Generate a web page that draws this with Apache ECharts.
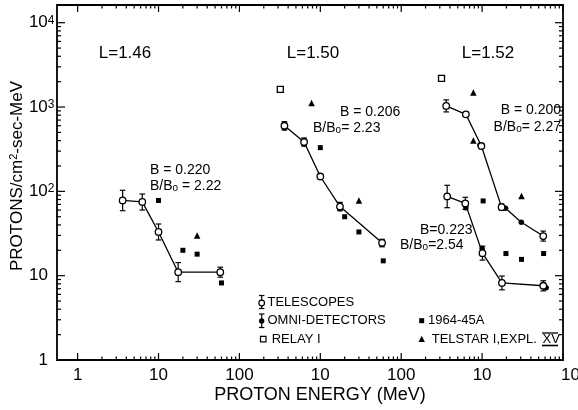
<!DOCTYPE html>
<html><head><meta charset="utf-8">
<script src="https://cdn.jsdelivr.net/npm/echarts@6/dist/echarts.min.js"></script>
<style>html,body{margin:0;padding:0;background:#fff}#c{width:578px;height:410px}</style>
</head><body><div id="c"></div>
<script>
// ---- axis ticks (continuous log axis, three panels side by side) ----
const xMajorTicks = [1, 10, 100, 1000, 10000, 100000, 1000000];
const xTickLabels = ['1', '10', '100', '10', '100', '10', '100'];
const yMajorTicks = [1, 10, 100, 1000, 10000];
const yTickBase = ['1', '10', '10', '10', '10'];
const yTickExp = ['', '', '2', '3', '4'];
const panelOffset = [1, 100, 10000];        // panel energy E is drawn at E*offset
const panelNames = ['L=1.46', 'L=1.50', 'L=1.52'];

// ---- Panel 1 : L=1.46 ----
const p1TelE = [3.6, 6.3, 10, 17.5, 58];
const p1TelV = [78, 75, 33, 11, 11];
const p1TelLo = [59, 60, 26.5, 8.5, 9.6];
const p1TelHi = [103, 93, 41, 14.3, 12.6];
const p1SatE = [10, 20, 30, 60];          // 1964-45A
const p1SatV = [78, 20, 18, 8.2];
const p1TelstarE = [30];
const p1TelstarV = [30];

// ---- Panel 2 : L=1.50 ----
const p2TelE = [3.6, 6.3, 10, 17.5, 58];
const p2TelV = [600, 385, 150, 66, 24.5];
const p2TelLo = [535, 345, 142, 59, 22];
const p2TelHi = [670, 430, 158, 74, 27];
const p2OmniE = [3.6, 6.3, 17.5, 58];
const p2OmniV = [565, 362, 62, 24];
const p2RelayE = [3.2];
const p2RelayV = [1620];
const p2SatE = [10, 20, 30, 60];
const p2SatV = [330, 50, 33, 15];
const p2TelstarE = [7.8, 30];
const p2TelstarV = [1120, 78];

// ---- Panel 3 : L=1.52 (upper curve B=0.200, lower curve B=0.223) ----
const p3aTelE = [3.6, 6.3, 9.8, 17.4, 57];
const p3aTelV = [1030, 820, 345, 65, 29.5];
const p3aTelLo = [875, 775, 327, 60, 25.7];
const p3aTelHi = [1215, 870, 364, 71, 33.8];
const p3aOmniE = [9.4, 19.5, 30.5, 57];
const p3aOmniV = [355, 63, 43, 28.5];
const p3aLineE = [3.6, 6.3, 9.8, 17.4, 19.5, 30.5, 57];
const p3aLineV = [1030, 820, 345, 65, 63, 43, 29.5];
const p3bTelE = [3.7, 6.2, 10.1, 17.6, 57];
const p3bTelV = [87, 72, 18.5, 8.2, 7.6];
const p3bTelLo = [64, 61, 15.3, 6.8, 6.6];
const p3bTelHi = [118, 85, 22.4, 9.9, 8.7];
const p3bOmniE = [6.3, 10, 62];
const p3bOmniV = [64, 21, 7.2];
const p3RelayE = [3.15];
const p3RelayV = [2190];
const p3SatE = [10.3, 19.7, 30.7, 57.6];
const p3SatV = [77, 18.3, 15.6, 18.3];
const p3TelstarE = [7.8, 7.8, 30.7];
const p3TelstarV = [1490, 400, 88];

// ---- helpers ----
const xMin = Math.pow(10, -0.255), xMax = 1e6, yMin = 1, yMax = Math.pow(10, 4.21);
const FONT = '"Liberation Sans", Arial, sans-serif';
const P = (E, V, off) => E.map((e, i) => [e * off, V[i]]);
const EB = (E, Lo, Hi, off) => E.map((e, i) => [e * off, Lo[i], Hi[i]]);
const [o1, o2, o3] = panelOffset;

function ln(x1, y1, x2, y2, w) {
  return {type: 'line', shape: {x1, y1, x2, y2}, style: {stroke: '#000', lineWidth: w || 1.2}};
}
function errRender(params, api) {
  const x = api.value(0);
  const a = api.coord([x, api.value(1)]), b = api.coord([x, api.value(2)]);
  const w = 2.8;
  return {type: 'group', children: [
    ln(a[0], a[1], b[0], b[1]), ln(a[0] - w, a[1], a[0] + w, a[1]), ln(b[0] - w, b[1], b[0] + w, b[1])
  ]};
}
function frameRender(params, api) {
  const tl = api.coord([xMin, yMax]), br = api.coord([xMax, yMin]);
  const L = tl[0], T = tl[1], R = br[0], B = br[1];
  const ch = [{type: 'rect', shape: {x: L, y: T, width: R - L, height: B - T},
    style: {fill: null, stroke: '#000', lineWidth: 1.8}}];
  xMajorTicks.forEach((v, i) => {
    const x = api.coord([v, yMin])[0];
    ch.push(ln(x, B, x, B - 7), ln(x, T, x, T + 7));
    const last = i === xMajorTicks.length - 1;   // the last label runs off the page edge
    ch.push({type: 'text', style: {text: xTickLabels[i], x: last ? x - 2 : x, y: B + 15,
      align: last ? 'left' : 'center', verticalAlign: 'middle', font: '17px ' + FONT, fill: '#000'}});
    if (!last) {
      for (let m = 2; m <= 9; m++) {
        const xm = api.coord([v * m, yMin])[0];
        ch.push(ln(xm, B, xm, B - 3.5), ln(xm, T, xm, T + 3.5));
      }
    }
  });
  yMajorTicks.forEach((v, i) => {
    const y = api.coord([xMin, v])[1];
    ch.push(ln(L, y, L + 8, y), ln(R, y, R - 8, y));
    const hasExp = yTickExp[i] !== '';
    ch.push({type: 'text', style: {
      text: hasExp ? '{b|' + yTickBase[i] + '}{s|' + yTickExp[i] + '}' : '{b|' + yTickBase[i] + '}',
      x: hasExp ? L - 2.5 : L - 9, y: y, align: 'right', verticalAlign: 'middle', fill: '#000',
      rich: {b: {fontSize: 17, fontFamily: FONT, fill: '#000'},
             s: {fontSize: 12, fontFamily: FONT, fill: '#000', verticalAlign: 'top'}}}});
    if (i < yMajorTicks.length - 1) {
      for (let m = 2; m <= 9; m++) {
        const ym = api.coord([xMin, v * m])[1];
        ch.push(ln(L, ym, L + 4, ym), ln(R, ym, R - 4, ym));
      }
    }
  });
  return {type: 'group', children: ch};
}

const lineSeries = (data) => ({type: 'line', data, symbol: 'none', z: 2, silent: true,
  lineStyle: {color: '#000', width: 1.3}});
const errSeries = (data) => ({type: 'custom', data, renderItem: errRender, z: 3, silent: true,
  encode: {x: 0, y: [1, 2]}});
const telSeries = (data) => ({type: 'scatter', data, symbol: 'circle', symbolSize: 6.5, z: 5,
  itemStyle: {color: '#fff', borderColor: '#000', borderWidth: 1.3, opacity: 1}});
const omniSeries = (data) => ({type: 'scatter', data, symbol: 'circle', symbolSize: 5.5, z: 4,
  itemStyle: {color: '#000', opacity: 1}});
const relaySeries = (data) => ({type: 'scatter', data, symbol: 'rect', symbolSize: 6, z: 4,
  itemStyle: {color: '#fff', borderColor: '#000', borderWidth: 1.3, opacity: 1}});
const satSeries = (data) => ({type: 'scatter', data, symbol: 'rect', symbolSize: 5, z: 4,
  itemStyle: {color: '#000', opacity: 1}});
const telstarSeries = (data) => ({type: 'scatter', data, symbol: 'triangle', symbolSize: 6.5, z: 4,
  itemStyle: {color: '#000', opacity: 1}});

const series = [
  {type: 'custom', data: [[1, 1]], renderItem: frameRender, z: 10, silent: true},
  lineSeries(P(p1TelE, p1TelV, o1)),
  lineSeries(P(p2TelE, p2TelV, o2)),
  lineSeries(P(p3aLineE, p3aLineV, o3)),
  lineSeries(P(p3bTelE, p3bTelV, o3)),
  errSeries(EB(p1TelE, p1TelLo, p1TelHi, o1)),
  errSeries(EB(p2TelE, p2TelLo, p2TelHi, o2)),
  errSeries(EB(p3aTelE, p3aTelLo, p3aTelHi, o3)),
  errSeries(EB(p3bTelE, p3bTelLo, p3bTelHi, o3)),
  omniSeries(P(p2OmniE, p2OmniV, o2)),
  omniSeries(P(p3aOmniE, p3aOmniV, o3)),
  omniSeries(P(p3bOmniE, p3bOmniV, o3)),
  telSeries(P(p1TelE, p1TelV, o1)),
  telSeries(P(p2TelE, p2TelV, o2)),
  telSeries(P(p3aTelE, p3aTelV, o3)),
  telSeries(P(p3bTelE, p3bTelV, o3)),
  relaySeries(P(p2RelayE, p2RelayV, o2)),
  relaySeries(P(p3RelayE, p3RelayV, o3)),
  satSeries(P(p1SatE, p1SatV, o1)),
  satSeries(P(p2SatE, p2SatV, o2)),
  satSeries(P(p3SatE, p3SatV, o3)),
  telstarSeries(P(p1TelstarE, p1TelstarV, o1)),
  telstarSeries(P(p2TelstarE, p2TelstarV, o2)),
  telstarSeries(P(p3TelstarE, p3TelstarV, o3))
];

const txt = (text, x, y, size, align) => ({type: 'text', x, y, silent: true,
  style: {text, font: size + 'px ' + FONT, fill: '#000', align: align || 'left', verticalAlign: 'middle'}});
const bRich = {b: {fontSize: 14, fontFamily: FONT, fill: '#000'},
               o: {fontSize: 10, fontFamily: FONT, fill: '#000', verticalAlign: 'bottom'}};
const rtxt = (text, x, y, align) => ({type: 'text', x, y, silent: true,
  style: {text, rich: bRich, fill: '#000', align: align || 'left', verticalAlign: 'middle'}});
const lgLine = (x1, y1, x2, y2, w) => ({type: 'line', silent: true, shape: {x1, y1, x2, y2},
  style: {stroke: '#000', lineWidth: w || 1.2}});

const graphic = [
  txt(panelNames[0], 125, 53, 17, 'center'),
  txt(panelNames[1], 313, 53, 17, 'center'),
  txt(panelNames[2], 488, 53, 17, 'center'),
  rtxt('{b|B = 0.220}', 150, 170),
  rtxt('{b|B/B}{o|o}{b| = 2.22}', 150, 186),
  rtxt('{b|B = 0.206}', 340, 112),
  rtxt('{b|B/B}{o|o}{b|= 2.23}', 313, 128),
  rtxt('{b|B = 0.200}', 561, 110, 'right'),
  rtxt('{b|B/B}{o|o}{b|= 2.27}', 561, 127, 'right'),
  rtxt('{b|B=0.223}', 420, 230.5),
  rtxt('{b|B/B}{o|o}{b|=2.54}', 400, 245.5),
  // legend
  lgLine(261.7, 295.5, 261.7, 308.5), lgLine(259, 295.5, 264.4, 295.5), lgLine(259, 308.5, 264.4, 308.5),
  {type: 'circle', silent: true, shape: {cx: 261.7, cy: 303, r: 2.8}, style: {fill: '#fff', stroke: '#000', lineWidth: 1.2}},
  txt('TELESCOPES', 267.5, 302, 13),
  lgLine(261.7, 314, 261.7, 327.5), lgLine(259, 314, 264.4, 314), lgLine(259, 327.5, 264.4, 327.5),
  {type: 'circle', silent: true, shape: {cx: 261.7, cy: 321, r: 2.7}, style: {fill: '#000'}},
  txt('OMNI-DETECTORS', 267.5, 320.7, 13),
  {type: 'rect', silent: true, shape: {x: 260.5, y: 336.3, width: 5.5, height: 5.5}, style: {fill: '#fff', stroke: '#000', lineWidth: 1.2}},
  txt('RELAY I', 271.7, 339.3, 13),
  {type: 'rect', silent: true, shape: {x: 419.2, y: 318.2, width: 5, height: 5}, style: {fill: '#000'}},
  txt('1964-45A', 428, 320.7, 13),
  {type: 'polygon', silent: true, shape: {points: [[421.7, 335.8], [418.5, 342], [424.9, 342]]}, style: {fill: '#000'}},
  txt('TELSTAR I,EXPL.', 431.7, 339.3, 13),
  txt('XV', 542.5, 339.3, 13),
  lgLine(542, 333, 558, 333, 1.3), lgLine(542, 345.5, 558, 345.5, 1.6),
  // axis titles
  txt('PROTON ENERGY (MeV)', 320, 395, 18, 'center'),
  {type: 'text', x: 17, y: 176, rotation: Math.PI / 2, silent: true,
   style: {text: '{b|PROTONS/cm}{s|2}{b|-sec-MeV}', align: 'center', verticalAlign: 'middle', fill: '#000',
     rich: {b: {fontSize: 17, fontFamily: FONT, fill: '#000'},
            s: {fontSize: 11, fontFamily: FONT, fill: '#000', verticalAlign: 'top'}}}}
];

const chart = echarts.init(document.getElementById('c'), null, {renderer: 'canvas'});
chart.setOption({
  animation: false,
  backgroundColor: '#fff',
  grid: {left: 57, right: 15, top: 5, bottom: 50, containLabel: false},
  xAxis: {type: 'log', min: xMin, max: xMax, show: false},
  yAxis: {type: 'log', min: yMin, max: yMax, show: false},
  series: series,
  graphic: graphic
});
</script>
</body></html>
